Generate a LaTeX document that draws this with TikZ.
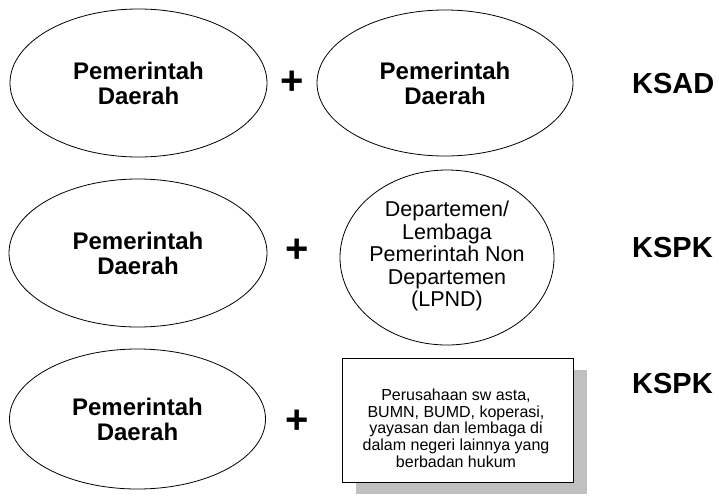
\documentclass[tikz,border=0pt]{standalone}
\usepackage{fontspec}
\setmainfont{Liberation Sans}
\usetikzlibrary{shapes.geometric,shadows}
\definecolor{shadowgray}{RGB}{192,192,192}
\begin{document}
\begin{tikzpicture}[x=1pt,y=-1pt,
  oval/.style={ellipse, draw, line width=0.8pt, inner sep=0pt},
  bigtxt/.style={font=\fontsize{24}{25}\selectfont\bfseries, align=center, inner sep=0pt},
  circtxt/.style={font=\fontsize{21.5}{22.5}\selectfont, align=center, inner sep=0pt},
  boxtxt/.style={font=\fontsize{16}{16.7}\selectfont, align=center, inner sep=0pt},
  plustxt/.style={font=\fontsize{40}{40}\selectfont\bfseries, inner sep=0pt},
  ktxt/.style={font=\fontsize{29}{29}\selectfont\bfseries, anchor=base west, inner sep=0pt},
  shadowbox/.style={draw, fill=white, line width=0.8pt, inner sep=0pt,
    drop shadow={shadow xshift=14pt, shadow yshift=-12pt, fill=shadowgray, opacity=1}}]
\useasboundingbox (0,0) rectangle (719,498);
% row 1
\node[oval, minimum width=257pt, minimum height=148pt] (a1) at (138.5,83) {};
\node[bigtxt] (a1t) at (a1.center) {Pemerintah\\Daerah};
\node[plustxt] (p1) at (292,83) {+};
\node[oval, minimum width=256pt, minimum height=146pt] (b1) at (445,83) {};
\node[bigtxt] (b1t) at (b1.center) {Pemerintah\\Daerah};
\node[ktxt] (k1) at (632,93) {KSAD};
% row 2
\node[oval, minimum width=258pt, minimum height=148pt] (a2) at (138,253) {};
\node[bigtxt] (a2t) at (a2.center) {Pemerintah\\Daerah};
\node[plustxt] (p2) at (297.5,251) {+};
\node[oval, minimum width=214pt, minimum height=175pt] (b2) at (447,257.5) {};
\node[circtxt] (b2t) at (447,256) {Departemen/\\Lembaga\\Pemerintah Non\\Departemen\\(LPND)};
\node[ktxt] (k2) at (632,257) {KSPK};
% row 3
\node[oval, minimum width=256pt, minimum height=140pt] (a3) at (137.5,419) {};
\node[bigtxt] (a3t) at (a3.center) {Pemerintah\\Daerah};
\node[plustxt] (p3) at (297.5,422) {+};
\node[shadowbox, minimum width=231pt, minimum height=124pt] (c3) at (457.5,420) {};
\node[boxtxt] (c3t) at (456,428) {Perusahaan sw asta,\\BUMN, BUMD, koperasi,\\yayasan dan lembaga di\\dalam negeri lainnya yang\\berbadan hukum};
\node[ktxt] (k3) at (632,393) {KSPK};
\end{tikzpicture}
\end{document}
